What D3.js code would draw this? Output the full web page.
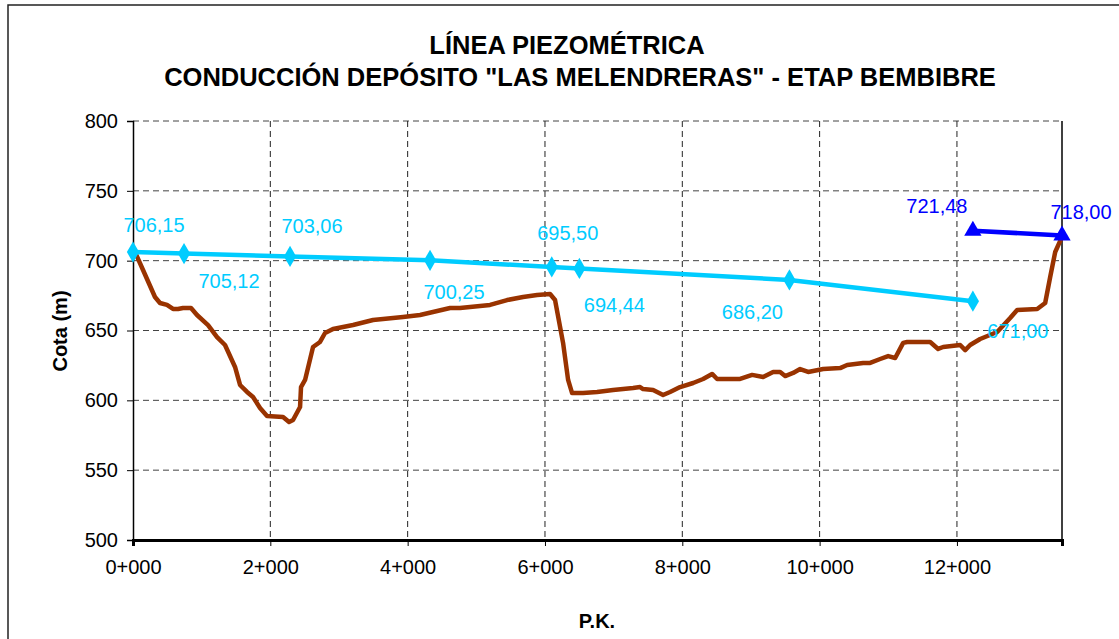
<!DOCTYPE html>
<html>
<head>
<meta charset="utf-8">
<script src="https://cdnjs.cloudflare.com/ajax/libs/d3/7.8.5/d3.min.js"></script>
<style>
    body { margin: 0; background: #fff; }
    text { font-family: "Liberation Sans", Arial, sans-serif; }
</style>
</head>
<body>
<div id="chart"></div>
<script>
// Perfil del terreno (P.K. en metros, cota en m)
var pkTerreno = [40, 146, 320, 393, 495, 583, 656, 728, 845, 932, 1093, 1224, 1340, 1486, 1559, 1661, 1748, 1850, 1952, 2185, 2273, 2331, 2433, 2447, 2506, 2622, 2724, 2797, 2913, 3205, 3496, 3933, 4181, 4618, 4763, 5200, 5448, 5681, 5885, 6074, 6147, 6264, 6337, 6395, 6555, 6759, 6992, 7283, 7385, 7429, 7575, 7720, 7822, 7968, 8158, 8303, 8434, 8507, 8842, 9017, 9177, 9323, 9425, 9498, 9614, 9716, 9833, 10051, 10299, 10401, 10634, 10736, 10882, 10998, 11100, 11217, 11275, 11610, 11726, 11799, 12047, 12120, 12192, 12338, 12586, 12775, 12877, 13169, 13285, 13358, 13431, 13530];
var cotaTerreno = [705, 693.3, 674, 669.7, 668.3, 665.4, 665.4, 666.1, 666.1, 661.1, 653.9, 645.3, 639.6, 623.9, 611, 606, 602.4, 594.5, 588.8, 588.1, 584.5, 585.9, 595.2, 609.5, 614.6, 638.2, 641.8, 648.2, 651.1, 653.9, 657.5, 659.7, 661.1, 666.1, 666.1, 668.3, 671.8, 674, 675.4, 676.1, 671.8, 641, 614.6, 605.2, 605.2, 606, 607.4, 608.8, 609.5, 608.1, 607.4, 603.8, 606, 609.5, 612.4, 615.3, 618.9, 615.3, 615.3, 618.2, 616.7, 620.3, 620.3, 617.4, 619.6, 622.4, 620.3, 622.4, 623.1, 625.3, 626.8, 626.8, 629.6, 631.7, 630.3, 641.1, 641.8, 641.8, 636.8, 638.2, 639.6, 636, 639.6, 643.9, 648.9, 658.9, 664.7, 665.4, 669.7, 688.3, 706.2, 717];

// Linea piezometrica de la conduccion
var pkPiezo = [0, 743, 2287, 4326, 6099, 6501, 9560, 12232];
var cotaPiezo = [706.15, 705.12, 703.06, 700.25, 695.50, 694.44, 686.20, 671.00];

// Tramo del deposito
var pkDeposito = [12232, 13530];
var cotaDeposito = [721.48, 718.00];

var xTicks = [0, 2000, 4000, 6000, 8000, 10000, 12000];
var yTicks = [500, 550, 600, 650, 700, 750, 800];

// label offsets (px) from each point, as placed in the original
var offPiezo = [[21, -27], [45, 27], [22, -30], [24, 32], [16, -34], [35, 37], [-37, 32], [45, 30]];
var offDeposito = [[-36, -25], [19, -24]];

var W = 1119, H = 639;
var plot = {left: 133, right: 1062, top: 121, bottom: 540};

var x = d3.scaleLinear().domain([0, 13530]).range([plot.left, plot.right]);
var y = d3.scaleLinear().domain([500, 800]).range([plot.bottom, plot.top]);

var es = d3.formatLocale({decimal: ",", thousands: ".", grouping: [3], currency: ["", "€"]});
var fmtCota = es.format(".2f");
function fmtPK(d) { return Math.floor(d / 1000) + "+" + d3.format("03")(d % 1000); }

var svg = d3.select("#chart").append("svg")
    .attr("width", W)
    .attr("height", H);

// outer chart frame
svg.append("rect")
    .attr("x", 8).attr("y", 5)
    .attr("width", 1300).attr("height", 800)
    .attr("fill", "none").attr("stroke", "#222").attr("stroke-width", 1.5);

// titles
svg.append("text").attr("x", 567).attr("y", 54).attr("text-anchor", "middle")
    .style("font-size", "25.5px").style("font-weight", "bold")
    .text("LÍNEA PIEZOMÉTRICA");
svg.append("text").attr("x", 580).attr("y", 86).attr("text-anchor", "middle")
    .style("font-size", "25.5px").style("font-weight", "bold")
    .text("CONDUCCIÓN DEPÓSITO \"LAS MELENDRERAS\" - ETAP BEMBIBRE");

// gridlines
svg.append("g").selectAll("line").data(yTicks.filter(function(d) { return d > 500; }))
    .enter().append("line")
    .attr("x1", plot.left).attr("x2", plot.right)
    .attr("y1", function(d) { return y(d); }).attr("y2", function(d) { return y(d); })
    .attr("stroke", "#444").attr("stroke-dasharray", "6,4");
svg.append("g").selectAll("line").data(xTicks.filter(function(d) { return d > 0; }))
    .enter().append("line")
    .attr("x1", function(d) { return x(d); }).attr("x2", function(d) { return x(d); })
    .attr("y1", plot.top).attr("y2", plot.bottom)
    .attr("stroke", "#222").attr("stroke-dasharray", "6,4");

// right border
svg.append("line").attr("x1", plot.right).attr("x2", plot.right)
    .attr("y1", plot.top).attr("y2", plot.bottom)
    .attr("stroke", "#000").attr("stroke-width", 1.5);

// axes
var yAxis = svg.append("g")
    .attr("transform", "translate(" + plot.left + ",0)")
    .call(d3.axisLeft(y).tickValues(yTicks).tickSize(6).tickPadding(9));
var xAxis = svg.append("g")
    .attr("transform", "translate(0," + plot.bottom + ")")
    .call(d3.axisBottom(x).tickValues(xTicks).tickFormat(fmtPK).tickSize(6).tickPadding(14));
[yAxis, xAxis].forEach(function(a) {
    a.selectAll("text").style("font-size", "20px").attr("fill", "#000")
        .style("font-family", "'Liberation Sans', Arial, sans-serif");
    a.selectAll("line").attr("stroke", "#000");
});
yAxis.select(".domain").attr("stroke", "#000").attr("stroke-width", 1.5);
xAxis.select(".domain").attr("stroke", "#000").attr("stroke-width", 3);

// axis titles
svg.append("text")
    .attr("transform", "translate(67,331) rotate(-90)")
    .attr("text-anchor", "middle")
    .style("font-size", "20px").style("font-weight", "bold")
    .text("Cota (m)");
svg.append("text").attr("x", 597).attr("y", 628).attr("text-anchor", "middle")
    .style("font-size", "20px").style("font-weight", "bold")
    .text("P.K.");

function pairs(xs, ys) { return xs.map(function(d, i) { return [d, ys[i]]; }); }

var line = d3.line()
    .x(function(d) { return x(d[0]); })
    .y(function(d) { return y(d[1]); });

// terrain
svg.append("path")
    .datum(pairs(pkTerreno, cotaTerreno))
    .attr("d", line)
    .attr("fill", "none").attr("stroke", "#993300").attr("stroke-width", 4.5)
    .attr("stroke-linejoin", "round");

// piezometric line
var piezo = pairs(pkPiezo, cotaPiezo);
svg.append("path")
    .datum(piezo)
    .attr("d", line)
    .attr("fill", "none").attr("stroke", "#00CCFF").attr("stroke-width", 4.5);
svg.append("g").selectAll("path").data(piezo).enter().append("path")
    .attr("transform", function(d) { return "translate(" + x(d[0]) + "," + y(d[1]) + ")"; })
    .attr("d", d3.symbol(d3.symbolDiamond, 130))
    .attr("fill", "#00CCFF");
svg.append("g").selectAll("text").data(piezo).enter().append("text")
    .attr("x", function(d, i) { return x(d[0]) + offPiezo[i][0]; })
    .attr("y", function(d, i) { return y(d[1]) + offPiezo[i][1]; })
    .attr("text-anchor", "middle").attr("dominant-baseline", "central")
    .style("font-size", "20px").attr("fill", "#00CCFF")
    .text(function(d) { return fmtCota(d[1]); });

// deposit segment
var deposito = pairs(pkDeposito, cotaDeposito);
svg.append("path")
    .datum(deposito)
    .attr("d", line)
    .attr("fill", "none").attr("stroke", "#0000FF").attr("stroke-width", 4.5);
svg.append("g").selectAll("path").data(deposito).enter().append("path")
    .attr("transform", function(d) { return "translate(" + x(d[0]) + "," + y(d[1]) + ")"; })
    .attr("d", d3.symbol(d3.symbolTriangle, 130))
    .attr("fill", "#0000FF");
svg.append("g").selectAll("text").data(deposito).enter().append("text")
    .attr("x", function(d, i) { return x(d[0]) + offDeposito[i][0]; })
    .attr("y", function(d, i) { return y(d[1]) + offDeposito[i][1]; })
    .attr("text-anchor", "middle").attr("dominant-baseline", "central")
    .style("font-size", "20px").attr("fill", "#0000FF")
    .text(function(d) { return fmtCota(d[1]); });
</script>
</body>
</html>
